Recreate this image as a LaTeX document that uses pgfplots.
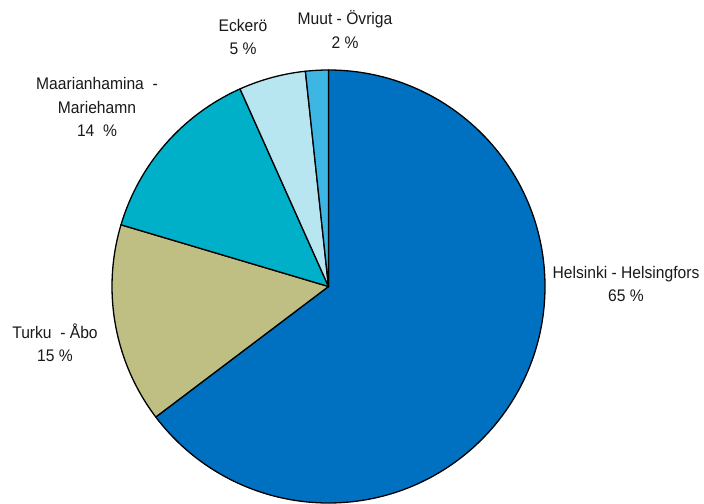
\documentclass[border=0pt]{standalone}
\usepackage{pgfplots}
\usepackage{pgfplotstable}
\pgfplotsset{compat=1.18}
\usepackage{fontspec}
\setmainfont[FakeStretch=0.93]{Liberation Sans}

\definecolor{cH}{HTML}{0070C0}
\definecolor{cT}{HTML}{BFBF84}
\definecolor{cM}{HTML}{00AFC8}
\definecolor{cE}{HTML}{B7E5F0}
\definecolor{cO}{HTML}{3DB6E4}

% shares in percent, clockwise from 12 o'clock
\pgfplotstableread[col sep=comma]{
share,col
64.7,cH
14.9,cT
13.7,cM
5.0,cE
1.7,cO
}\piedata

\begin{document}
\begin{tikzpicture}
\begin{axis}[
    at={(0,0)}, anchor=south west,
    x=1bp, y=1bp,
    xmin=0, xmax=704, ymin=0, ymax=504,
    scale only axis,
    hide axis,
    clip=true,
]
\pgfplotstablegetrowsof{\piedata}
\pgfmathtruncatemacro\N{\pgfplotsretval-1}
\gdef\angstart{90}
\pgfplotsforeachungrouped \i in {0,...,\N}{%
    \pgfplotstablegetelem{\i}{share}\of\piedata \let\sh\pgfplotsretval
    \pgfplotstablegetelem{\i}{col}\of\piedata \let\cl\pgfplotsretval
    \pgfmathsetmacro\angend{\angstart-3.6*\sh}
    \edef\temp{\noexpand\filldraw[fill=\cl, draw=black, line width=1.3bp, line join=round]
        (axis cs:328.5,217.5) -- ++(\angstart:216.5bp)
        arc[start angle=\angstart, end angle=\angend, radius=216.5bp] -- cycle;}
    \temp
    \global\let\angstart\angend
}
\end{axis}
\begin{scope}[every node/.style={font=\fontsize{16.8bp}{23.5bp}\selectfont, align=center, inner sep=0pt, text=black!90}]
\node at (626bp,220bp) {Helsinki - Helsingfors\\65 \%};
\node at (55bp,161bp) {Turku \ - Åbo\\15 \%};
\node at (97bp,397bp) {Maarianhamina \ -\\Mariehamn\\14 \ \%};
\node at (243bp,467bp) {Eckerö\\5 \%};
\node at (345bp,474.5bp) {Muut - Övriga\\2 \%};
\end{scope}
\useasboundingbox (0,0) rectangle (704bp,504bp);
\end{tikzpicture}
\end{document}
